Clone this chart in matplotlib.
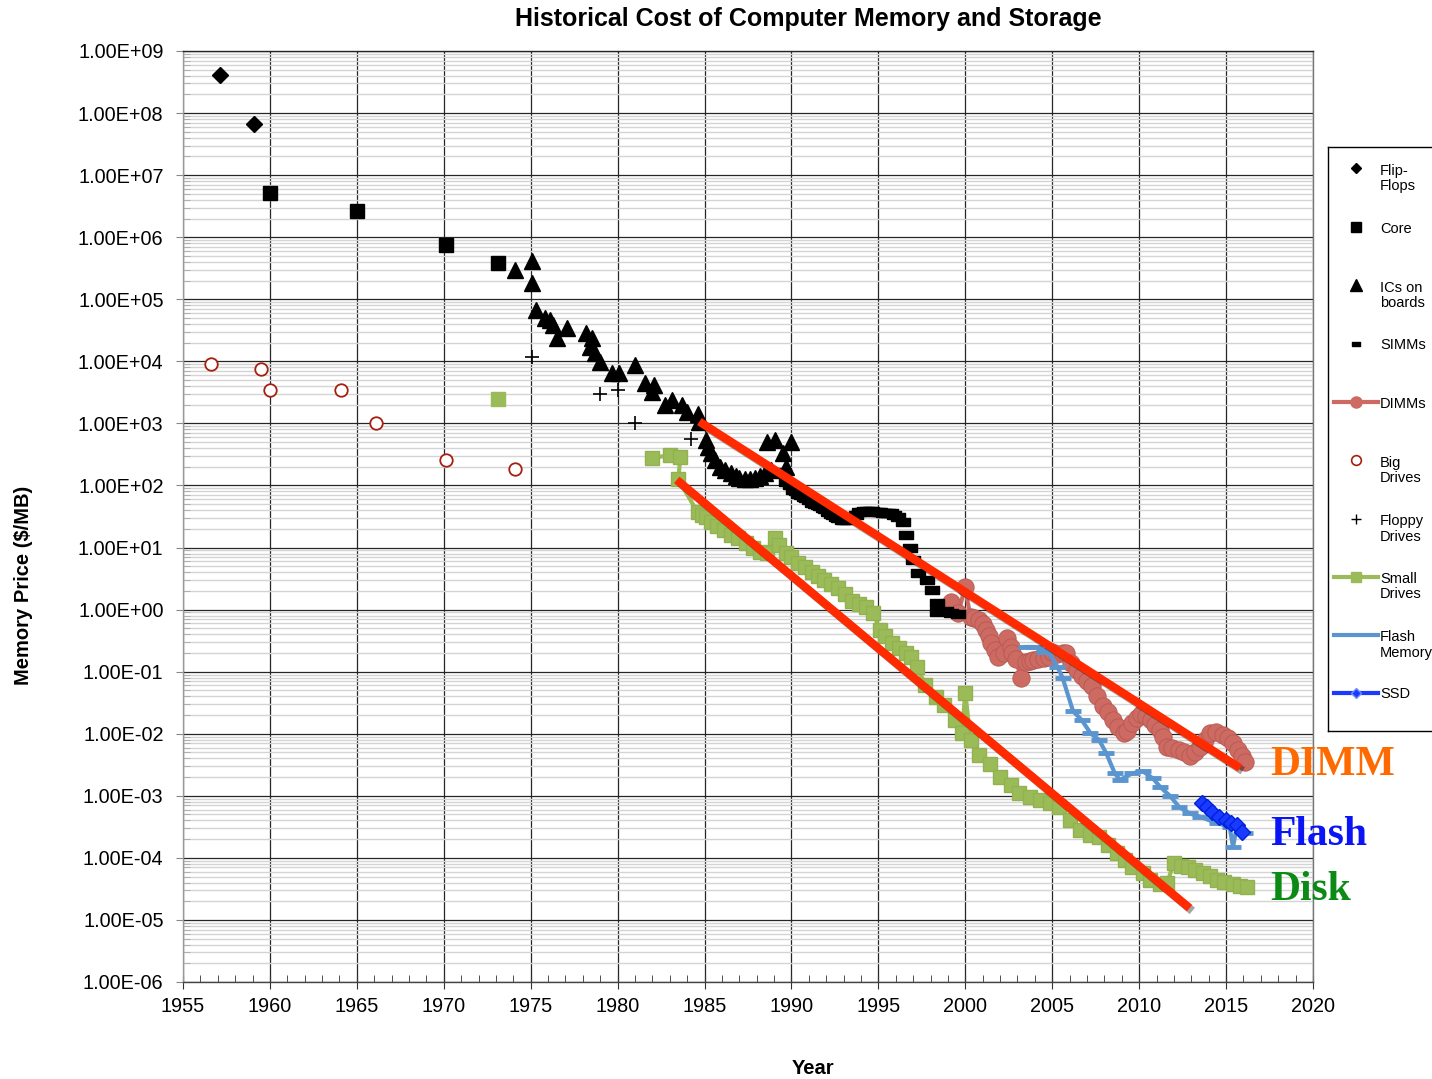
import matplotlib
matplotlib.use("Agg")
import matplotlib.pyplot as plt
import matplotlib.patheffects as pe
from matplotlib.ticker import FixedLocator, LogLocator, FuncFormatter, MultipleLocator, NullFormatter

plt.rcParams['font.family'] = ['Liberation Sans', 'DejaVu Sans']

# data ($/MB by year)
flip_years = [1957.1, 1959.1]
flip_price = [4.1e8, 6.6e7]

core_years = [1960.0, 1965.0, 1970.1, 1973.1]
core_price = [5.1e6, 2.6e6, 7.4e5, 3.8e5]

ic_years = [1974.1, 1975.06, 1975.07, 1975.3, 1975.8, 1976.1, 1976.3, 1976.5, 1977.1,
            1978.2, 1978.5, 1978.4, 1978.7, 1979.0, 1979.7, 1980.1, 1981.0, 1981.6,
            1982.1, 1982.0, 1982.7, 1983.1, 1983.7, 1984.0, 1984.6,
            1984.7, 1985.1, 1985.2, 1985.4, 1985.6, 1985.9, 1986.2, 1986.5, 1986.8,
            1987.0, 1987.3, 1987.6, 1987.9, 1988.2, 1988.5, 1988.8,
            1988.6, 1989.05, 1989.5, 1989.7, 1990.0]
ic_price = [2.95e5, 4.1e5, 1.8e5, 6.8e4, 5.0e4, 4.7e4, 3.9e4, 2.4e4, 3.5e4,
            2.9e4, 2.4e4, 1.7e4, 1.35e4, 9.8e3, 6.5e3, 6.5e3, 8.7e3, 4.5e3,
            4.2e3, 3.2e3, 2.0e3, 2.4e3, 2.0e3, 1.5e3, 1.4e3,
            1070, 540, 420, 330, 260, 200, 180, 160, 140,
            130, 126, 125, 130, 140, 160, 180,
            510, 540, 330, 200, 510]

simm_years = [1989.3, 1989.7, 1989.9, 1990.1, 1990.25, 1990.4, 1990.55, 1990.7, 1990.85,
              1991.0, 1991.2, 1991.35, 1991.5, 1991.65, 1991.8, 1991.95, 1992.1, 1992.25,
              1992.4, 1992.55, 1992.7, 1992.9, 1993.05, 1993.2, 1993.35, 1993.5, 1993.7,
              1993.9, 1994.05, 1994.2, 1994.35, 1994.5, 1994.65, 1994.8, 1994.95, 1995.1,
              1995.25, 1995.4, 1995.55, 1995.7, 1995.9, 1996.1, 1996.4, 1996.6, 1996.8,
              1997.0, 1997.3, 1997.8, 1998.1, 1998.4, 1998.4, 1998.9, 1999.2, 1999.6]
simm_price = [165, 115, 100, 85, 80, 74, 70, 66, 62,
              58, 52, 50, 48, 46, 44, 41, 38, 35,
              33, 31, 30, 28, 28, 28, 29, 30, 33,
              37, 38, 39, 39, 39, 39, 38, 37.5, 37,
              36.5, 36, 36, 36, 34, 31, 26, 16, 10,
              6.3, 3.9, 3.0, 2.1, 1.3, 0.91, 0.95, 0.89, 0.85]

dimm_years = [1999.2, 1999.6, 1999.98, 2000.3, 2000.5, 2000.8, 2001.0, 2001.2, 2001.35,
              2001.5, 2001.7, 2001.9, 2002.2, 2002.4, 2002.6, 2002.7, 2002.9, 2003.2,
              2003.5, 2003.7, 2003.9, 2004.2, 2004.5, 2004.8, 2005.0, 2005.3, 2005.6,
              2005.8, 2006.1, 2006.4, 2006.7, 2007.0, 2007.3, 2007.6, 2007.9, 2008.2,
              2008.5, 2008.8, 2009.1, 2009.3, 2009.6, 2009.9, 2010.1, 2010.4, 2010.7,
              2010.9, 2011.2, 2011.4, 2011.6, 2011.9, 2012.3, 2012.6, 2012.9, 2013.2,
              2013.5, 2013.8, 2014.1, 2014.4, 2014.8, 2015.1, 2015.4, 2015.7, 2015.9,
              2016.1]
dimm_price = [1.35, 0.87, 2.3, 0.76, 0.72, 0.68, 0.58, 0.47, 0.38,
              0.29, 0.22, 0.17, 0.20, 0.35, 0.25, 0.20, 0.16, 0.079,
              0.145, 0.15, 0.155, 0.16, 0.166, 0.17, 0.21, 0.19, 0.20,
              0.20, 0.14, 0.107, 0.085, 0.07, 0.058, 0.04, 0.028, 0.022,
              0.0166, 0.013, 0.0102, 0.011, 0.0148, 0.018, 0.021, 0.019, 0.0166,
              0.014, 0.0115, 0.009, 0.0062, 0.0058, 0.0055, 0.005, 0.0043, 0.005,
              0.0062, 0.008, 0.0102, 0.0105, 0.0095, 0.0085, 0.0071, 0.0055, 0.0043,
              0.0035]

big_years = [1956.6, 1959.5, 1960.0, 1964.1, 1966.1, 1970.1, 1974.1]
big_price = [9.1e3, 7.6e3, 3.5e3, 3.5e3, 1.0e3, 257, 186]

floppy_years = [1975.1, 1979.0, 1980.0, 1981.0, 1984.2]
floppy_price = [1.17e4, 2.95e3, 3.5e3, 1.0e3, 560]

small_years = [1973.1, 1982.0, 1983.0, 1983.6, 1983.5, 1984.6, 1984.85, 1985.1, 1985.4,
               1985.7, 1986.1, 1986.5, 1986.9, 1987.4, 1987.8, 1988.2, 1988.6, 1989.05,
               1989.3, 1989.7, 1990.0, 1990.4, 1990.8, 1991.2, 1991.5, 1991.9, 1992.3,
               1992.7, 1993.1, 1993.5, 1993.9, 1994.3, 1994.7, 1995.1, 1995.4, 1995.8,
               1996.2, 1996.6, 1996.9, 1997.2, 1997.7, 1998.3,
               1998.8, 1999.4, 1999.8, 2000.0, 2000.3, 2000.8, 2001.4, 2002.0, 2002.6,
               2003.1, 2003.7, 2004.3, 2004.9, 2005.4, 2006.0, 2006.6, 2007.2, 2007.7,
               2008.2, 2008.7, 2009.2, 2009.6, 2010.2, 2010.6, 2011.2, 2011.6, 2012.0,
               2012.4, 2012.8, 2013.2, 2013.7, 2014.1, 2014.5, 2014.9, 2015.4, 2015.8,
               2016.2]
small_price = [2.45e3, 275, 310, 290, 125, 37, 34, 31, 26,
               22, 19, 16, 14, 12, 10, 8.5, 8.1, 14,
               11, 8.1, 7.0, 5.6, 4.8, 4.1, 3.5, 3.0, 2.6,
               2.2, 1.8, 1.4, 1.25, 1.1, 0.87, 0.47, 0.38, 0.29,
               0.24, 0.20, 0.17, 0.12, 0.062, 0.039,
               0.029, 0.0166, 0.0102, 0.046, 0.0079, 0.0046, 0.0032, 0.0020, 0.0015,
               0.0011, 9.5e-4, 8.5e-4, 7.6e-4, 6.6e-4, 4.1e-4, 2.8e-4, 2.3e-4, 2.2e-4,
               1.6e-4, 1.2e-4, 9.3e-5, 7.2e-5, 5.8e-5, 4.4e-5, 3.8e-5, 3.9e-5, 8.3e-5,
               7.4e-5, 7.2e-5, 6.4e-5, 5.8e-5, 5.1e-5, 4.4e-5, 4.1e-5, 3.8e-5, 3.5e-5,
               3.4e-5]

flash_years = [2003.5, 2004.0, 2004.5, 2004.7, 2005.3, 2005.6, 2006.2, 2006.7, 2007.2,
               2007.7, 2008.1, 2008.6, 2008.9, 2009.6, 2010.2, 2010.8, 2011.2, 2011.8,
               2012.3, 2012.9, 2013.5, 2014.5, 2015.2, 2015.4, 2015.6, 2016.1]
flash_price = [0.25, 0.25, 0.21, 0.22, 0.12, 0.079, 0.023, 0.0166, 0.0102,
               0.0079, 0.0049, 0.0023, 0.0018, 0.0023, 0.0025, 0.0019, 0.0014, 9.8e-4,
               6.6e-4, 5.2e-4, 4.6e-4, 3.6e-4, 3.2e-4, 1.5e-4, 3.0e-4, 2.5e-4]

ssd_years = [2013.6, 2013.9, 2014.2, 2014.6, 2015.0, 2015.3, 2015.6, 2015.9]
ssd_price = [7.6e-4, 6.5e-4, 5.5e-4, 4.6e-4, 4.0e-4, 3.7e-4, 3.4e-4, 2.6e-4]

# hand-drawn trend lines
dimm_trend_years = [1984.7, 2015.8]
dimm_trend_price = [1.07e3, 2.8e-3]
disk_trend_years = [1983.4, 2012.9]
disk_trend_price = [123, 1.55e-5]

W, H = 1432, 1079
fig = plt.figure(figsize=(W / 100, H / 100), dpi=100)
ax = fig.add_axes([183 / W, 1 - 982 / H, (1313 - 183) / W, (982 - 51) / H])

dash = [(-1, -0.55), (1, -0.55), (1, 0.55), (-1, 0.55), (-1, -0.55)]

ax.plot(dimm_years, dimm_price, color='#CD6A62', lw=3, marker='o', ms=12.5,
        mfc='#CD6A62', mec='#B45A53', mew=0.6, zorder=3)
ax.plot(small_years[:1], small_price[:1], ls='none', marker='s', ms=10.5,
        color='#9BBB59', zorder=3)
ax.plot(small_years[1:], small_price[1:], color='#9BBB59', lw=3, marker='s', ms=10.5,
        mec='#92B252', zorder=3)
ax.plot(flash_years, flash_price, color='#5B95CF', lw=3, marker='_', ms=11, mew=3.5, zorder=4)
ax.plot(ssd_years, ssd_price, color='#1A3BFF', lw=2, marker='D', ms=8,
        mec='#0022DD', zorder=5)
ax.plot(flip_years, flip_price, ls='none', marker='D', ms=8.5, color='black', zorder=6)
ax.plot(core_years, core_price, ls='none', marker='s', ms=10.5, color='black', zorder=6)
ax.plot(ic_years, ic_price, ls='none', marker='^', ms=11, color='black', zorder=6)
ax.plot(simm_years, simm_price, ls='none', marker=dash, ms=9.5, color='black', zorder=6)
ax.plot(big_years, big_price, ls='none', marker='o', ms=9, mfc='white',
        mec='#A52010', mew=1.3, zorder=6)
ax.plot(floppy_years, floppy_price, ls='none', marker='+', ms=10, mew=1.2,
        color='black', zorder=6)

shadow = [pe.SimpleLineShadow(offset=(2, -2), alpha=0.35), pe.Normal()]
for yrs, pr in [(dimm_trend_years, dimm_trend_price), (disk_trend_years, disk_trend_price)]:
    ax.plot(yrs, pr, color='#FF2A00', lw=6, solid_capstyle='butt', zorder=7,
            path_effects=shadow)

ax.set_yscale('log')
ax.set_xlim(1955, 2020)
ax.set_ylim(1e-6, 1e9)
ax.xaxis.set_major_locator(MultipleLocator(5))
ax.xaxis.set_minor_locator(MultipleLocator(1))
ax.yaxis.set_major_locator(FixedLocator([10.0 ** k for k in range(-6, 10)]))
ax.yaxis.set_minor_locator(LogLocator(base=10, subs=range(2, 10), numticks=40))
ax.yaxis.set_minor_formatter(NullFormatter())
ax.yaxis.set_major_formatter(FuncFormatter(lambda v, p: f"{v:.2E}"))
ax.xaxis.set_major_formatter(FuncFormatter(lambda v, p: f"{int(round(v))}"))

ax.grid(which='major', axis='both', color='#262626', lw=0.9)
ax.grid(which='minor', axis='y', color='#d4d4d4', lw=1.0)
ax.set_axisbelow(True)

ax.tick_params(axis='y', which='major', direction='out', length=5, color='#888888',
               labelsize=14.3, pad=9)
ax.tick_params(axis='y', which='minor', direction='in', length=5, color='#aaaaaa')
ax.tick_params(axis='x', which='major', direction='inout', length=10, color='#333333',
               labelsize=14.3, pad=6)
ax.tick_params(axis='x', which='minor', direction='in', length=5, color='#333333')

ax.spines['left'].set_color('#999999')
ax.spines['bottom'].set_color('#444444')
ax.spines['top'].set_color('#262626')
ax.spines['right'].set_color('#777777')
for s in ax.spines.values():
    s.set_linewidth(1.0)

fig.text(808 / W, 1 - 19 / H, 'Historical Cost of Computer Memory and Storage',
         ha='center', va='center', fontsize=18, fontweight='bold')
fig.text(24 / W, 1 - 585 / H, 'Memory Price ($/MB)', rotation=90,
         ha='center', va='center', fontsize=14.5, fontweight='bold')
fig.text(813 / W, 1 - 1068 / H, 'Year', ha='center', va='center',
         fontsize=14.5, fontweight='bold')

serif = ['Liberation Serif', 'DejaVu Serif']
fig.text(1270 / W, 1 - 765 / H, 'DIMM', color='#FF6A00', fontsize=30,
         fontweight='bold', family=serif, ha='left', va='center')
fig.text(1270 / W, 1 - 835 / H, 'Flash', color='#0A14F5', fontsize=30,
         fontweight='bold', family=serif, ha='left', va='center')
fig.text(1270 / W, 1 - 890 / H, 'Disk', color='#0B8A16', fontsize=30,
         fontweight='bold', family=serif, ha='left', va='center')

# legend box, drawn in pixel units
lx0, ly0, ly1 = 1328, 147, 731
lax = fig.add_axes([lx0 / W, 1 - ly1 / H, 0.09, (ly1 - ly0) / H])
lax.set_xlim(lx0, lx0 + 0.09 * W)
lax.set_ylim(ly1, ly0)
lax.set_xticks([])
lax.set_yticks([])
for s in lax.spines.values():
    s.set_color('black')
    s.set_linewidth(1.0)

mx, tx = 1356, 1380
lax.plot([mx], [168], marker='D', ms=5.5, color='black')
lax.plot([mx], [227], marker='s', ms=7, color='black')
lax.plot([mx], [285], marker='^', ms=8, color='black')
lax.plot([mx], [344], marker=dash, ms=6, color='black')
lax.plot([1334, 1378], [402, 402], color='#CD6A62', lw=3)
lax.plot([mx], [402], marker='o', ms=8, color='#CD6A62')
lax.plot([mx], [460], marker='o', ms=7, mfc='white', mec='#A52010', mew=1.2)
lax.plot([mx], [519], marker='+', ms=7, mew=1, color='black')
lax.plot([1334, 1378], [577, 577], color='#9BBB59', lw=3)
lax.plot([mx], [577], marker='s', ms=7, color='#9BBB59')
lax.plot([1334, 1378], [635, 635], color='#5B95CF', lw=3)
lax.plot([1334, 1378], [693, 693], color='#1A3BFF', lw=3)
lax.plot([mx], [693], marker='D', ms=5, color='#1A3BFF', mec='#7090ff')

legend_labels = [('Flip-\nFlops', 178.5), ('Core', 229), ('ICs on\nboards', 295.5),
                 ('SIMMs', 345), ('DIMMs', 404), ('Big\nDrives', 470.5),
                 ('Floppy\nDrives', 529), ('Small\nDrives', 586.5),
                 ('Flash\nMemory', 645), ('SSD', 694)]
for lab, yy in legend_labels:
    lax.text(tx, yy, lab, ha='left', va='center', fontsize=10.5, linespacing=1.15)

fig.savefig('out.png', dpi=100)
